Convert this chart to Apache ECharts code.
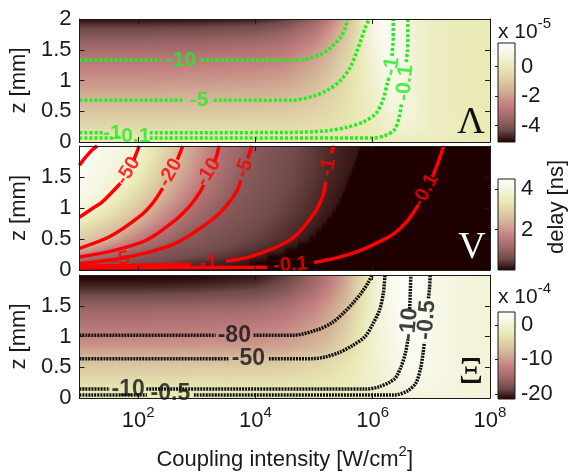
<!DOCTYPE html>
<html><head><meta charset="utf-8">
<script src="https://cdn.jsdelivr.net/npm/echarts@6/dist/echarts.min.js"></script>
<style>html,body{margin:0;padding:0;background:#fff}#c{width:572px;height:472px}</style>
</head><body><div id="c"></div>
<script>
// ---------- axes / ticks ----------
const xTickExps = [2, 4, 6];            // log10 of tick positions (10^2,10^4,10^6)
const xLabelExps = [2, 4, 6, 8];        // labelled exponents
const lambdaRange = [-5.1, 1.6];        // x 1e-5
const vRange = [0, 4.5];                // delay [ns]
const xiRange = [-21.5, 3.7];           // x 1e-4
const lambdaBarTicks = [-4, -2, 0];
const vBarTicks = [2, 4];
const xiBarTicks = [-20, -10, 0];

// ---------- colour fields ----------
const zRows = [0,0.1,0.2,0.3,0.4,0.5,0.6,0.7,0.8,0.9,1.0,1.1,1.2,1.3,1.4,1.5,1.6,1.7,1.8,1.9,2.0];
const xCols = [1,2,3,4,4.5,5,5.25,5.5,5.75,6,6.25,6.5,6.75,7,7.5,8];

const lambdaRows = [
 [-0.1,-0.1,-0.1,-0.1,-0.1,-0.1,-0.09,-0.08,-0.06,-0.03,0.02,0.08,0.1,0.08,0.03,0],
 [-0.25,-0.25,-0.25,-0.24,-0.23,-0.21,-0.19,-0.15,-0.1,0.0,0.15,0.3,0.3,0.2,0.05,0],
 [-0.45,-0.45,-0.44,-0.43,-0.41,-0.36,-0.3,-0.22,-0.1,0.05,0.3,0.5,0.45,0.25,0.05,0],
 [-0.65,-0.65,-0.64,-0.62,-0.58,-0.48,-0.38,-0.25,-0.08,0.1,0.4,0.65,0.5,0.25,0.05,0],
 [-0.9,-0.9,-0.88,-0.84,-0.78,-0.62,-0.47,-0.28,-0.05,0.15,0.5,0.75,0.55,0.25,0.05,0],
 [-1.1,-1.1,-1.08,-1.02,-0.95,-0.75,-0.55,-0.3,-0.02,0.2,0.6,0.8,0.55,0.25,0.05,0],
 [-1.3,-1.3,-1.27,-1.2,-1.12,-0.88,-0.62,-0.35,0,0.25,0.7,0.85,0.55,0.2,0.05,0],
 [-1.5,-1.5,-1.47,-1.4,-1.3,-1.0,-0.7,-0.4,0,0.3,0.8,0.9,0.55,0.2,0.05,0],
 [-1.75,-1.75,-1.7,-1.62,-1.5,-1.15,-0.8,-0.45,0,0.35,0.9,0.9,0.5,0.2,0.05,0],
 [-2.0,-2.0,-1.95,-1.85,-1.7,-1.3,-0.9,-0.5,0,0.4,0.95,0.9,0.5,0.2,0.05,0],
 [-2.2,-2.2,-2.15,-2.05,-1.9,-1.4,-1.0,-0.55,-0.05,0.45,1.0,0.9,0.5,0.2,0.05,0],
 [-2.4,-2.4,-2.35,-2.25,-2.05,-1.55,-1.1,-0.6,-0.05,0.5,1.05,0.9,0.5,0.2,0.05,0],
 [-2.6,-2.6,-2.55,-2.45,-2.25,-1.7,-1.25,-0.7,-0.1,0.55,1.1,0.95,0.5,0.2,0.05,0],
 [-2.8,-2.8,-2.75,-2.65,-2.45,-1.85,-1.35,-0.75,-0.1,0.6,1.15,0.95,0.5,0.2,0.05,0],
 [-3.0,-3.0,-2.95,-2.85,-2.65,-2.0,-1.5,-0.85,-0.15,0.65,1.2,1.0,0.5,0.2,0.05,0],
 [-3.25,-3.25,-3.2,-3.05,-2.85,-2.2,-1.65,-0.95,-0.2,0.7,1.25,1.0,0.5,0.2,0.05,0],
 [-3.5,-3.5,-3.45,-3.3,-3.1,-2.4,-1.8,-1.05,-0.25,0.75,1.3,1.0,0.5,0.2,0.05,0],
 [-3.8,-3.8,-3.75,-3.6,-3.35,-2.65,-2.0,-1.2,-0.3,0.8,1.35,1.0,0.5,0.2,0.05,0],
 [-4.1,-4.1,-4.05,-3.9,-3.6,-2.9,-2.2,-1.3,-0.35,0.85,1.4,1.0,0.5,0.2,0.05,0],
 [-4.5,-4.5,-4.45,-4.3,-4.0,-3.2,-2.5,-1.5,-0.4,0.9,1.45,1.0,0.5,0.2,0.05,0],
 [-5.0,-5.0,-4.95,-4.8,-4.5,-3.6,-2.8,-1.7,-0.5,0.9,1.5,1.0,0.5,0.2,0.05,0]
];

const xiRows = [
 [-2.0,-2.0,-2.0,-2.0,-2.0,-1.9,-1.8,-1.7,-1.5,-1.2,-0.7,0.0,0.4,0.6,0.4,0.2],
 [-2.6,-2.6,-2.6,-2.5,-2.5,-2.3,-2.2,-1.9,-1.6,-1.1,-0.4,0.4,0.9,1.0,0.5,0.2],
 [-3.3,-3.3,-3.3,-3.2,-3.1,-2.8,-2.5,-2.1,-1.6,-0.9,0.0,0.8,1.4,1.3,0.5,0.2],
 [-4.2,-4.2,-4.1,-4.0,-3.8,-3.3,-2.9,-2.3,-1.6,-0.7,0.2,1.1,1.8,1.5,0.5,0.2],
 [-5.2,-5.2,-5.1,-5.0,-4.7,-4.0,-3.4,-2.7,-1.7,-0.6,0.4,1.4,2.1,1.6,0.5,0.2],
 [-6.1,-6.1,-6.0,-5.8,-5.5,-4.6,-3.9,-3.0,-1.8,-0.5,0.5,1.6,2.3,1.7,0.5,0.2],
 [-7.0,-7.0,-6.9,-6.7,-6.3,-5.3,-4.5,-3.4,-2.0,-0.5,0.6,1.8,2.4,1.8,0.5,0.2],
 [-8.4,-8.4,-8.3,-8.0,-7.5,-6.3,-5.3,-4.0,-2.3,-0.5,0.7,2.0,2.5,1.8,0.5,0.2],
 [-10.0,-10.0,-9.8,-9.5,-8.9,-7.5,-6.3,-4.7,-2.6,-0.5,0.8,2.1,2.6,1.8,0.5,0.2],
 [-11.0,-11.0,-10.8,-10.5,-9.8,-8.2,-6.9,-5.1,-2.8,-0.5,0.9,2.2,2.7,1.8,0.5,0.2],
 [-11.9,-11.9,-11.7,-11.3,-10.6,-8.8,-7.4,-5.5,-3.0,-0.5,1.0,2.3,2.8,1.8,0.5,0.2],
 [-12.7,-12.7,-12.5,-12.1,-11.3,-9.4,-7.9,-5.9,-3.2,-0.5,1.1,2.4,2.8,1.8,0.5,0.2],
 [-13.5,-13.5,-13.3,-12.9,-12.0,-10.0,-8.4,-6.3,-3.4,-0.5,1.2,2.5,2.9,1.8,0.5,0.2],
 [-14.2,-14.2,-14.0,-13.6,-12.7,-10.6,-8.9,-6.7,-3.6,-0.5,1.3,2.6,2.9,1.8,0.5,0.2],
 [-15.0,-15.0,-14.8,-14.4,-13.4,-11.2,-9.4,-7.1,-3.8,-0.5,1.4,2.7,3.0,1.8,0.5,0.2],
 [-16.0,-16.0,-15.8,-15.4,-14.3,-11.9,-10.0,-7.6,-4.1,-0.6,1.5,2.8,3.0,1.8,0.5,0.2],
 [-17.3,-17.3,-17.1,-16.6,-15.4,-12.8,-10.8,-8.2,-4.4,-0.7,1.6,2.8,3.0,1.8,0.5,0.2],
 [-18.6,-18.6,-18.4,-17.8,-16.5,-13.6,-11.5,-8.7,-4.7,-0.8,1.7,2.9,3.0,1.8,0.5,0.2],
 [-19.8,-19.8,-19.6,-18.9,-17.5,-14.4,-12.1,-9.2,-5.0,-0.9,1.8,2.9,3.0,1.8,0.5,0.2],
 [-20.8,-20.8,-20.6,-19.8,-18.3,-15.0,-12.6,-9.6,-5.3,-1.0,1.9,3.0,3.0,1.8,0.5,0.2],
 [-21.5,-21.5,-21.3,-20.5,-19.0,-15.5,-13.0,-10.0,-5.5,-1.0,2.0,3.0,3.0,1.8,0.5,0.2]
];

// V panel rows: [log10 intensity, delay] stops per z row
const vRows = [
 [[1,0.25],[3.0,0.2],[3.6,0.15],[3.61,0],[8,0]],
 [[1,0.9],[3.13,0.3],[3.9,0.15],[3.91,0],[8,0]],
 [[1,1.4],[1.75,0.9],[3.75,0.3],[4.2,0.15],[4.21,0],[8,0]],
 [[1,2.1],[1.52,1.45],[2.16,0.9],[4.17,0.3],[4.5,0.15],[4.51,0],[8,0]],
 [[1,2.65],[1.14,2.5],[1.86,1.45],[2.53,0.9],[4.40,0.3],[4.72,0.15],[4.73,0],[8,0]],
 [[1,2.85],[1.41,2.5],[2.17,1.45],[2.75,0.9],[4.62,0.3],[4.92,0.15],[4.93,0],[8,0]],
 [[1,3.05],[1.61,2.5],[2.32,1.45],[2.92,0.9],[4.71,0.3],[5.03,0.15],[5.04,0],[8,0]],
 [[1,3.3],[1.77,2.5],[2.47,1.45],[3.08,0.9],[4.80,0.3],[5.13,0.15],[5.14,0],[8,0]],
 [[1,3.6],[1.93,2.5],[2.63,1.45],[3.25,0.9],[4.90,0.3],[5.22,0.15],[5.23,0],[8,0]],
 [[1,3.85],[1.08,3.8],[2.06,2.5],[2.73,1.45],[3.35,0.9],[4.99,0.3],[5.30,0.15],[5.31,0],[8,0]],
 [[1,3.95],[1.23,3.8],[2.16,2.5],[2.83,1.45],[3.44,0.9],[5.04,0.3],[5.37,0.15],[5.38,0],[8,0]],
 [[1,4.05],[1.39,3.8],[2.25,2.5],[2.93,1.45],[3.52,0.9],[5.08,0.3],[5.42,0.15],[5.43,0],[8,0]],
 [[1,4.12],[1.49,3.8],[2.35,2.5],[3.02,1.45],[3.61,0.9],[5.12,0.3],[5.47,0.15],[5.48,0],[8,0]],
 [[1,4.18],[1.60,3.8],[2.43,2.5],[3.09,1.45],[3.69,0.9],[5.17,0.3],[5.52,0.15],[5.53,0],[8,0]],
 [[1,4.22],[1.70,3.8],[2.48,2.5],[3.16,1.45],[3.74,0.9],[5.21,0.3],[5.56,0.15],[5.57,0],[8,0]],
 [[1,4.25],[1.77,3.8],[2.54,2.5],[3.22,1.45],[3.77,0.9],[5.25,0.3],[5.60,0.15],[5.61,0],[8,0]],
 [[1,4.28],[1.83,3.8],[2.60,2.5],[3.27,1.45],[3.81,0.9],[5.27,0.3],[5.64,0.15],[5.65,0],[8,0]],
 [[1,4.3],[1.89,3.8],[2.65,2.5],[3.30,1.45],[3.84,0.9],[5.29,0.3],[5.68,0.15],[5.69,0],[8,0]],
 [[1,4.4],[1.1,4.3],[1.94,3.8],[2.69,2.5],[3.33,1.45],[3.87,0.9],[5.30,0.3],[5.72,0.15],[5.73,0],[8,0]],
 [[1,4.45],[1.2,4.3],[1.98,3.8],[2.72,2.5],[3.35,1.45],[3.91,0.9],[5.32,0.3],[5.75,0.15],[5.76,0],[8,0]],
 [[1,4.5],[1.3,4.3],[2.02,3.8],[2.76,2.5],[3.38,1.45],[3.94,0.9],[5.34,0.3],[5.78,0.15],[5.79,0],[8,0]]
];

// ---------- contour lines [log10 I, z], split where labels sit ----------
const lamC10 = [[[1.0,1.33],[2.39,1.33]],
  [[3.07,1.33],[4.5,1.33],[4.87,1.35],[5.1,1.42],[5.3,1.55],[5.45,1.70],[5.53,1.85],[5.57,2.0]]];
const lamC5 = [[[1.0,0.68],[2.79,0.68]],
  [[3.29,0.68],[4.63,0.68],[5.0,0.75],[5.24,0.85],[5.45,1.0],[5.62,1.22],[5.72,1.45],[5.80,1.66],[5.87,1.85],[5.94,2.0]]];
const lamC1 = [[[1.0,0.15],[1.4,0.15]],
  [[2.2,0.15],[4.5,0.155],[5.2,0.18],[5.56,0.24],[5.85,0.33],[6.06,0.47],[6.18,0.7],[6.25,0.96],[6.28,1.06]],
  [[6.33,1.40],[6.35,1.7],[6.35,2.0]]];
const lamC01 = [[[1.0,0.065],[1.6,0.065]],
  [[2.2,0.065],[5.99,0.065],[6.2,0.1],[6.37,0.2],[6.45,0.4],[6.49,0.62]],
  [[6.57,1.3],[6.59,1.45],[6.6,1.7],[6.6,2.0]]];
const lamLabels = [[2.73,1.33,0,'-10'],[3.04,0.68,0,'-5'],[1.56,0.14,0,'-1'],[1.9,0.10,0,'-0.1'],[6.32,1.23,82,'-1'],[6.55,0.96,85,'-0.1']];

const vC100 = [[[1.0,1.69],[1.07,1.78],[1.15,1.87],[1.22,1.94],[1.30,2.0]]];
const vC50 = [[[1.0,0.85],[1.2,0.98],[1.39,1.10],[1.55,1.25],[1.70,1.40]],[[1.93,1.78],[1.97,1.88],[2.02,2.0]]];
const vC20 = [[[1.0,0.35],[1.52,0.54],[2.02,0.86],[2.25,1.08],[2.42,1.32]],[[2.67,1.78],[2.72,1.9],[2.76,2.0]]];
const vC10 = [[[1.0,0.21],[1.52,0.30],[2.14,0.48],[2.64,0.81],[2.88,1.03],[3.05,1.25],[3.12,1.37]],[[3.31,1.76],[3.35,1.88],[3.38,2.0]]];
const vC5 = [[[1.0,0.10],[1.83,0.21],[2.64,0.43],[3.26,0.81],[3.50,1.03],[3.69,1.29],[3.75,1.45]],[[3.87,1.8],[3.94,2.0]]];
const vC1 = [[[1.0,0.06],[2.9,0.09]],[[3.5,0.14],[4.0,0.24],[4.63,0.51],[5.0,0.91],[5.15,1.2],[5.2,1.42]],[[5.29,1.88],[5.34,2.0]]];
const vC01 = [[[1.0,0.035],[4.2,0.045]],[[5.0,0.12],[5.4,0.2],[5.75,0.30],[6.1,0.45],[6.37,0.59],[6.6,0.8],[6.78,1.05]],[[7.02,1.5],[7.13,1.77],[7.21,2.0]]];
const vLabels = [[1.83,1.6,58,'-50'],[2.55,1.57,60,'-20'],[3.2,1.58,58,'-10'],[3.81,1.64,70,'-5'],[5.24,1.66,78,'-1'],[6.9,1.28,62,'-0.1'],[3.2,0.11,5,'-1'],[4.6,0.08,4,'-0.1'],[1.7,0.17,10,'-5']];

const xiC80 = [[[1.0,1.02],[3.32,1.02]],
  [[3.97,1.02],[4.63,1.02],[5.06,1.11],[5.3,1.22],[5.5,1.38],[5.67,1.55],[5.8,1.70],[5.92,1.87],[5.99,2.0]]];
const xiC50 = [[[1.0,0.64],[3.54,0.64]],
  [[4.23,0.64],[4.98,0.64],[5.2,0.67],[5.43,0.74],[5.65,0.85],[5.87,1.0],[6.0,1.2],[6.12,1.44],[6.18,1.7],[6.21,2.0]]];
const xiC10 = [[[1.0,0.145],[1.52,0.145]],
  [[2.14,0.145],[5.87,0.145],[6.1,0.18],[6.37,0.31],[6.48,0.5],[6.56,0.74],[6.6,0.95]],
  [[6.63,1.45],[6.64,1.7],[6.65,2.0]]];
const xiC05 = [[[1.0,0.05],[2.15,0.05]],
  [[2.95,0.05],[6.37,0.05],[6.6,0.12],[6.74,0.25],[6.82,0.5],[6.86,0.74],[6.88,0.9]],
  [[6.95,1.62],[6.97,1.8],[6.98,2.0]]];
const xiLabels = [[3.64,1.02,0,'-80'],[3.88,0.64,0,'-50'],[1.83,0.14,0,'-10'],[2.55,0.07,0,'-0.5'],[6.62,1.2,85,'-10'],[6.92,1.27,85,'-0.5']];

// ---------- rendering helpers ----------
const FONT = '"Liberation Sans", Arial, sans-serif';
const INK = '#1a1a1a';
const PINK = [[30,0,0],[112,74,74],[159,104,104],[195,128,128],[208,170,147],[221,204,165],[233,233,180],[244,244,221],[255,255,255]];
function pinkRGB(t){
  t = Math.max(0, Math.min(1, t));
  const s = t * 8, i = Math.min(7, Math.floor(s)), f = s - i, a = PINK[i], b = PINK[i+1];
  return [0,1,2].map(k => Math.round(a[k] + (b[k]-a[k]) * f));
}
// value of one read row at log-intensity lx (row given as values on xCols, or as [lx,v] pairs)
function rowAt(row, cols, lx){
  const xs = cols ? cols : row.map(p => p[0]);
  const vs = cols ? row : row.map(p => p[1]);
  if (lx <= xs[0]) return vs[0];
  for (let k = 1; k < xs.length; k++) {
    if (lx <= xs[k]) { const f = (lx - xs[k-1]) / (xs[k] - xs[k-1]); return vs[k-1] + (vs[k]-vs[k-1]) * f; }
  }
  return vs[vs.length-1];
}
// shaded surface of a panel, placed with the grid's own axes
function heatSeries(gi, rows, cols, range){
  return {
    type:'custom', coordinateSystem:'cartesian2d', xAxisIndex:2*gi, yAxisIndex:2*gi,
    silent:true, z:1, clip:true, data:[[4.5, 1]],
    renderItem: (params, api) => {
      const p0 = api.coord([1, 2]), p1 = api.coord([8, 0]);
      const W = Math.max(1, Math.round(p1[0]-p0[0])), H = Math.max(1, Math.round(p1[1]-p0[1]));
      const cv = document.createElement('canvas'); cv.width = W; cv.height = H;
      const ctx = cv.getContext('2d'); const img = ctx.createImageData(W, H);
      const colVals = [];
      for (let y = 0; y < H; y++) {
        const z = 2 - 2 * (y + 0.5) / H;
        let ia = 0;
        while (ia < zRows.length - 2 && z > zRows[ia+1]) ia++;
        const f = Math.max(0, Math.min(1, (z - zRows[ia]) / (zRows[ia+1] - zRows[ia])));
        for (let x = 0; x < W; x++) {
          const lx = 1 + 7 * (x + 0.5) / W;
          const v = rowAt(rows[ia], cols, lx) * (1 - f) + rowAt(rows[ia+1], cols, lx) * f;
          const c = pinkRGB((v - range[0]) / (range[1] - range[0]));
          const o = 4 * (y * W + x);
          img.data[o] = c[0]; img.data[o+1] = c[1]; img.data[o+2] = c[2]; img.data[o+3] = 255;
        }
      }
      ctx.putImageData(img, 0, 0);
      return {type:'image', style:{image:cv, x:p0[0], y:p0[1], width:p1[0]-p0[0], height:p1[1]-p0[1]}};
    }
  };
}
function barSeries(j, range){
  return {
    type:'custom', coordinateSystem:'cartesian2d', xAxisIndex:6+j, yAxisIndex:6+j, silent:true, z:1,
    data:[[0.5, (range[0]+range[1])/2]],
    renderItem: (params, api) => {
      const p0 = api.coord([0, range[1]]), p1 = api.coord([1, range[0]]);
      const stops = PINK.map((c, k) => ({offset:k/8, color:'rgb('+c.join(',')+')'}));
      return {type:'rect', shape:{x:p0[0], y:p0[1], width:p1[0]-p0[0], height:p1[1]-p0[1]},
        style:{fill:new echarts.graphic.LinearGradient(0,1,0,0,stops), stroke:INK, lineWidth:1}};
    }
  };
}
function contourSeries(gi, segs, color, dash, w){
  return segs.map(seg => ({
    type:'line', xAxisIndex:2*gi, yAxisIndex:2*gi, data:seg, showSymbol:false, symbol:'none',
    smooth:0.3, silent:true, z:3, lineStyle:{color:color, width:w, type:dash}
  }));
}
function labelSeries(gi, labels, color, size){
  return {
    type:'scatter', xAxisIndex:2*gi, yAxisIndex:2*gi, symbolSize:1, silent:true, z:4,
    itemStyle:{color:'rgba(0,0,0,0)'},
    data: labels.map(l => ({value:[l[0], l[1]], label:{show:true, position:'inside', rotate:l[2],
      formatter:l[3], color:color, fontSize:size, fontWeight:'bold', fontFamily:FONT}}))
  };
}

// ---------- axes ----------
const panelGrids = [
  {left:79, top:19, width:411, height:123},
  {left:79, top:146, width:411, height:124},
  {left:79, top:275, width:411, height:124}
];
const barGrids = [
  {left:498, top:43, width:17, height:99},
  {left:498, top:179, width:17, height:91},
  {left:498, top:312, width:17, height:87}
];
const xAxes = [], yAxes = [];
const lineSt = {color:INK, width:1};
const supStyle = {b:{fontSize:22, fontFamily:FONT, color:INK, lineHeight:27, verticalAlign:'bottom'},
                  s:{fontSize:15, fontFamily:FONT, color:INK, lineHeight:15, verticalAlign:'top'}};
for (let i = 0; i < 3; i++) {
  ['bottom','top'].forEach(pos => {
    const showLab = (i === 2 && pos === 'bottom');
    xAxes.push({
      type:'value', gridIndex:i, min:1, max:8, position:pos,
      axisLine:{show:true, onZero:false, lineStyle:lineSt},
      axisTick:{show:true, inside:true, length:5, customValues:xTickExps, lineStyle:lineSt},
      axisLabel: showLab ? {show:true, customValues:xLabelExps, margin:7,
        formatter: v => '{b|10}{s|' + v + '}', rich:supStyle} : {show:false},
      splitLine:{show:false},
      name: showLab ? '{b|Coupling intensity [W/cm}{s|2}{b|]}' : '',
      nameLocation:'middle', nameGap:46,
      nameTextStyle:{rich:supStyle},
      z:10
    });
  });
  ['left','right'].forEach(pos => {
    yAxes.push({
      type:'value', gridIndex:i, min:0, max:2, interval:0.5, position:pos,
      axisLine:{show:true, onZero:false, lineStyle:lineSt},
      axisTick:{show:true, inside:true, length:5, lineStyle:lineSt},
      axisLabel: pos === 'left' ? {show:true, margin:8, fontSize:22, fontFamily:FONT, color:INK,
        formatter: v => (i > 0 && v === 2) ? '' : String(v)} : {show:false},
      splitLine:{show:false},
      name: pos === 'left' ? 'z [mm]' : '', nameLocation:'middle', nameGap:45, nameRotate:90,
      nameTextStyle:{fontSize:22, fontFamily:FONT, color:INK},
      z:10
    });
  });
}
const barRanges = [lambdaRange, vRange, xiRange];
const barTicks = [lambdaBarTicks, vBarTicks, xiBarTicks];
for (let j = 0; j < 3; j++) {
  xAxes.push({type:'value', gridIndex:3+j, min:0, max:1, show:false});
  yAxes.push({
    type:'value', gridIndex:3+j, min:barRanges[j][0], max:barRanges[j][1], position:'right',
    axisLine:{show:false}, splitLine:{show:false},
    axisTick:{show:true, inside:true, length:3, customValues:barTicks[j], lineStyle:lineSt},
    axisLabel:{show:true, customValues:barTicks[j], margin:6, fontSize:22, fontFamily:FONT, color:INK},
    z:10
  });
}

const series = [
  heatSeries(0, lambdaRows, xCols, lambdaRange),
  heatSeries(1, vRows, null, vRange),
  heatSeries(2, xiRows, xCols, xiRange),
  barSeries(0, lambdaRange), barSeries(1, vRange), barSeries(2, xiRange)
];
const GREEN = '#22ee22', RED = '#ff0000', BLACK = '#111111';
[lamC10, lamC5, lamC1, lamC01].forEach(c => series.push(...contourSeries(0, c, GREEN, [3,2], 3.5)));
[vC100, vC50, vC20, vC10, vC5, vC1, vC01].forEach(c => series.push(...contourSeries(1, c, RED, 'solid', 3.5)));
[xiC80, xiC50, xiC10, xiC05].forEach(c => series.push(...contourSeries(2, c, BLACK, [2,1], 3.5)));
series.push(labelSeries(0, lamLabels, GREEN, 21));
series.push(labelSeries(1, vLabels, RED, 20));
series.push(labelSeries(2, xiLabels, BLACK, 23));

const supRich = {b:{fontSize:21, fontFamily:FONT, fill:INK, lineHeight:27, verticalAlign:'bottom'},
                 s:{fontSize:15, fontFamily:FONT, fill:INK, lineHeight:15, verticalAlign:'top'}};
const chart = echarts.init(document.getElementById('c'), null, {renderer:'canvas'});
chart.setOption({
  animation:false,
  backgroundColor:'#ffffff',
  grid: panelGrids.concat(barGrids),
  xAxis: xAxes, yAxis: yAxes,
  series: series,
  graphic: [
    {type:'text', x:471, y:123, z:100, style:{text:'Λ', font:'38px "Liberation Serif", serif', fill:'#111', align:'center', verticalAlign:'middle'}},
    {type:'text', x:472, y:248, z:100, style:{text:'V', font:'38px "Liberation Serif", serif', fill:'#ffffff', align:'center', verticalAlign:'middle'}},
    {type:'text', x:471, y:373, z:100, style:{text:'Ξ', font:'38px "Liberation Serif", serif', fill:'#111', align:'center', verticalAlign:'middle'}},
    {type:'text', x:498, y:16, z:100, style:{text:'{b|x 10}{s|-5}', rich:supRich}},
    {type:'text', x:498, y:281, z:100, style:{text:'{b|x 10}{s|-4}', rich:supRich}},
    {type:'text', x:557, y:207, rotation:Math.PI/2, z:100, style:{text:'delay [ns]', font:'22px "Liberation Sans", Arial, sans-serif', fill:INK, align:'center', verticalAlign:'middle'}}
  ]
});
</script></body></html>
